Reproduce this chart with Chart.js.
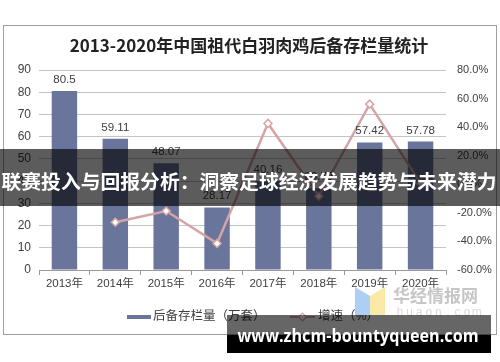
<!DOCTYPE html>
<html>
<head>
<meta charset="utf-8">
<script src="https://cdn.jsdelivr.net/npm/chart.js@4.4.0/dist/chart.umd.min.js"></script>
<style>
  html, body { margin: 0; padding: 0; background: #fff; }
  #wrap { width: 500px; height: 362px; }
</style>
</head>
<body>
<div id="wrap"><canvas id="stockChart" width="500" height="362"></canvas></div>
<script>
const years = ['2013年', '2014年', '2015年', '2016年', '2017年', '2018年', '2019年', '2020年'];
const stockValues = [80.5, 59.11, 48.07, 28.17, 40.16, 36.79, 57.42, 57.78];
const growthRates = [null, -26.6, -18.7, -41.4, 42.6, -8.4, 56.1, 0.6];
const leftTicks = [0, 10, 20, 30, 40, 50, 60, 70, 80, 90];
const rightTicks = [-60, -40, -20, 0, 20, 40, 60, 80];

const chartTitle = '2013-2020年中国祖代白羽肉鸡后备存栏量统计';
const barLabel = '后备存栏量（万套）';
const lineLabel = '增速（%）';
const bannerText = '联赛投入与回报分析：洞察足球经济发展趋势与未来潜力';
const siteText = 'www.zhcm-bountyqueen.com';

const BAR_COLOR = '#6a759b';
const LINE_COLOR = '#d6a4a4';
const TEXT_COLOR = '#404040';
const FONT = '"Liberation Sans", "Noto Sans CJK SC", sans-serif';

Chart.defaults.font.family = FONT;
Chart.defaults.color = TEXT_COLOR;

const decorPlugin = {
    id: 'decor',
    beforeDraw(chart) {
        const ctx = chart.ctx;
        ctx.save();
        ctx.fillStyle = '#fff';
        ctx.fillRect(0, 0, chart.width, chart.height);
        // outer frame
        ctx.strokeStyle = '#a0a0a0';
        ctx.lineWidth = 1;
        ctx.strokeRect(3.5, 25.5, 493, 309);
        // title
        ctx.fillStyle = '#222';
        ctx.font = 'bold 17px "Noto Sans CJK SC", sans-serif';
        ctx.textAlign = 'center';
        ctx.textBaseline = 'middle';
        ctx.fillText(chartTitle, 249, 46);
        ctx.restore();
    },
    afterDatasetsDraw(chart) {
        // values above bars
        const ctx = chart.ctx;
        const meta = chart.getDatasetMeta(0);
        ctx.save();
        ctx.fillStyle = TEXT_COLOR;
        ctx.font = '11.5px ' + FONT;
        ctx.textAlign = 'center';
        ctx.textBaseline = 'alphabetic';
        meta.data.forEach((bar, i) => {
            ctx.fillText(String(stockValues[i]), bar.x, bar.y - 8);
        });
        ctx.restore();
    },
    afterDraw(chart) {
        const ctx = chart.ctx;
        ctx.save();

        // legend
        const ly = 317;
        ctx.fillStyle = BAR_COLOR;
        ctx.fillRect(127, ly - 2, 24, 4);
        ctx.fillStyle = TEXT_COLOR;
        ctx.font = '12.5px ' + FONT;
        ctx.textAlign = 'left';
        ctx.textBaseline = 'middle';
        ctx.fillText(barLabel, 153, ly);

        ctx.strokeStyle = LINE_COLOR;
        ctx.lineWidth = 2;
        ctx.beginPath();
        ctx.moveTo(290, ly);
        ctx.lineTo(315, ly);
        ctx.stroke();
        ctx.fillStyle = '#fff';
        ctx.lineWidth = 1.2;
        ctx.beginPath();
        ctx.moveTo(298.5, ly);
        ctx.lineTo(302.5, ly - 4);
        ctx.lineTo(306.5, ly);
        ctx.lineTo(302.5, ly + 4);
        ctx.closePath();
        ctx.fill();
        ctx.stroke();
        ctx.fillStyle = TEXT_COLOR;
        ctx.fillText(lineLabel, 318, ly);

        // watermark
        ctx.fillStyle = '#aecff5';
        ctx.beginPath();
        ctx.moveTo(355, 287); ctx.lineTo(370, 296); ctx.lineTo(370, 315); ctx.lineTo(355, 315);
        ctx.closePath();
        ctx.fill();
        ctx.fillStyle = '#fbe9a8';
        ctx.beginPath();
        ctx.moveTo(370, 296); ctx.lineTo(385, 287); ctx.lineTo(385, 315); ctx.lineTo(370, 315);
        ctx.closePath();
        ctx.fill();
        ctx.fillStyle = '#c6c6c6';
        ctx.font = 'bold 17px "Noto Sans CJK SC", sans-serif';
        ctx.fillText('华经情报网', 393, 296);
        ctx.fillStyle = '#dadada';
        ctx.font = '12px ' + FONT;
        ctx.textAlign = 'center';
        'huaon.com'.split('').forEach((c, i) => {
            ctx.fillText(c, 400 + i * 9.6, 313);
        });

        // banner across the middle
        ctx.fillStyle = 'rgba(0, 0, 0, 0.64)';
        ctx.fillRect(0, 149, 500, 57);
        ctx.fillStyle = '#fff';
        ctx.font = 'bold 19px "Noto Sans CJK SC", sans-serif';
        ctx.textAlign = 'center';
        ctx.textBaseline = 'middle';
        const bw = ctx.measureText(bannerText).width;
        ctx.save();
        ctx.translate(249, 182);
        ctx.scale(495 / bw, 1.03);
        ctx.fillText(bannerText, 0, 0);
        ctx.restore();

        // site box at the bottom
        ctx.fillStyle = 'rgba(0, 0, 0, 0.6)';
        ctx.fillRect(227, 315, 264, 20);
        ctx.fillStyle = '#000';
        ctx.fillRect(227, 335, 264, 18);
        ctx.fillStyle = '#fff';
        ctx.font = 'bold 17px "Open Sans", sans-serif';
        const w = ctx.measureText(siteText).width;
        ctx.save();
        ctx.translate(358, 337);
        ctx.scale(241 / w, 1);
        ctx.fillText(siteText, 0, 0);
        ctx.restore();

        ctx.restore();
    }
};

let stockChart = null;

function renderChart() {
    const ctx = document.getElementById('stockChart').getContext('2d');

    stockChart = new Chart(ctx, {
        type: 'bar',
        data: {
            labels: years,
            datasets: [
                {
                    type: 'bar',
                    label: barLabel,
                    data: stockValues,
                    backgroundColor: BAR_COLOR,
                    yAxisID: 'y',
                    categoryPercentage: 1,
                    barPercentage: 0.5,
                    order: 1
                },
                {
                    type: 'line',
                    label: lineLabel,
                    data: growthRates,
                    yAxisID: 'y1',
                    borderColor: LINE_COLOR,
                    borderWidth: 2.5,
                    tension: 0,
                    pointStyle: 'rectRot',
                    pointRadius: 4,
                    pointBorderWidth: 1.5,
                    pointBackgroundColor: '#fff',
                    pointBorderColor: LINE_COLOR,
                    order: 0
                }
            ]
        },
        options: {
            responsive: false,
            animation: false,
            devicePixelRatio: 1,
            layout: { padding: { top: 70, left: 0, right: 0, bottom: 0 } },
            plugins: {
                legend: { display: false },
                title: { display: false },
                tooltip: { enabled: false }
            },
            scales: {
                x: {
                    offset: true,
                    grid: {
                        offset: true,
                        drawOnChartArea: false,
                        drawTicks: true,
                        tickLength: 5,
                        color: '#999'
                    },
                    border: { display: true, color: '#999' },
                    ticks: { font: { size: 11.5 }, padding: 2, maxRotation: 0 },
                    afterFit(scale) { scale.height = 92; }
                },
                y: {
                    position: 'left',
                    min: 0,
                    max: 90,
                    afterBuildTicks(scale) { scale.ticks = leftTicks.map(v => ({ value: v })); },
                    grid: { color: '#c4c4c4', drawTicks: false },
                    border: { display: false },
                    ticks: { font: { size: 12 }, padding: 8 },
                    afterFit(scale) { scale.width = 39; }
                },
                y1: {
                    position: 'right',
                    min: -60,
                    max: 80,
                    afterBuildTicks(scale) { scale.ticks = rightTicks.map(v => ({ value: v })); },
                    grid: { display: false, drawTicks: false },
                    border: { display: false },
                    ticks: {
                        font: { size: 11 },
                        padding: 11,
                        callback: function(value) {
                            return value.toFixed(1) + '%';
                        }
                    },
                    afterFit(scale) { scale.width = 54; }
                }
            }
        },
        plugins: [decorPlugin]
    });
}

renderChart();
</script>
</body>
</html>
